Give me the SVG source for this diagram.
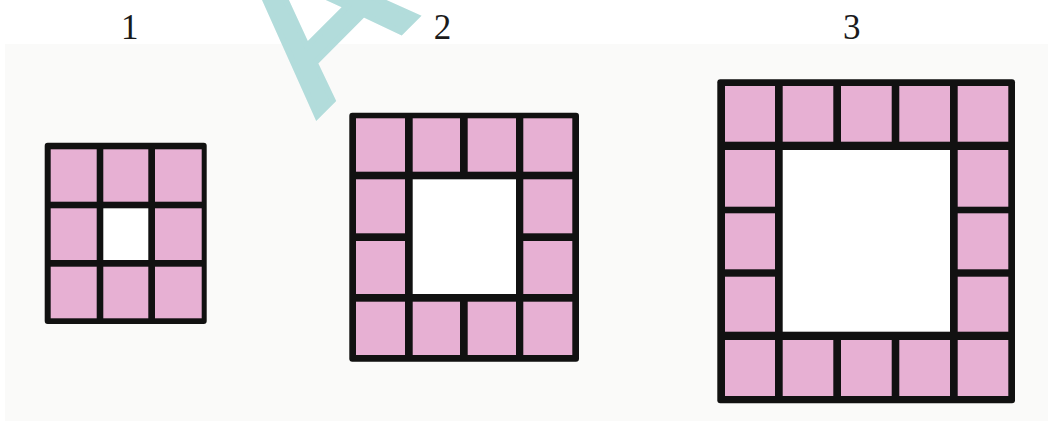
<svg xmlns="http://www.w3.org/2000/svg" width="1053" height="423" viewBox="0 0 1053 423">
  <style>
    .frame { fill: #111111; }
    .tile { fill: #e7b0d3; }
    .hole { fill: #ffffff; }
    .label { font-family: "Liberation Serif", "DejaVu Serif", serif; font-size: 35px; fill: #1a1a1a; text-anchor: middle; }
    .wm { font-family: "DejaVu Sans", "Liberation Sans", sans-serif; font-size: 210px; fill: #b2dcdb; stroke: #b2dcdb; stroke-width: 6px; }
  </style>
  <rect x="0" y="0" width="1053" height="423" fill="#ffffff"/>
  <rect x="5" y="44" width="1043" height="377" fill="#fafaf9"/>
  <text class="wm" transform="translate(316,117) rotate(-45)">A</text>

  <g id="labels">
    <text class="label" x="129.7" y="39">1</text>
    <text class="label" x="442.5" y="39">2</text>
    <text class="label" x="851.7" y="39">3</text>
  </g>

  <g id="figure1">
    <rect class="frame" x="44.7" y="142.7" width="162" height="181.3" rx="3"/>
    <rect class="tile" x="50.7" y="149.3" width="46" height="52.4"/>
    <rect class="tile" x="103.3" y="149.3" width="45" height="52.4"/>
    <rect class="tile" x="155" y="149.3" width="46.7" height="52.4"/>
    <rect class="tile" x="50.7" y="208.3" width="46" height="51.7"/>
    <rect class="hole" x="103.3" y="208.3" width="45" height="51.7"/>
    <rect class="tile" x="155" y="208.3" width="46.7" height="51.7"/>
    <rect class="tile" x="50.7" y="266.7" width="46" height="51.6"/>
    <rect class="tile" x="103.3" y="266.7" width="45" height="51.6"/>
    <rect class="tile" x="155" y="266.7" width="46.7" height="51.6"/>
  </g>

  <g id="figure2">
    <rect class="frame" x="349.3" y="112.7" width="229.7" height="249" rx="3"/>
    <rect class="tile" x="356" y="118.3" width="49" height="53.4"/>
    <rect class="tile" x="412.7" y="118.3" width="47.3" height="53.4"/>
    <rect class="tile" x="467.7" y="118.3" width="48.3" height="53.4"/>
    <rect class="tile" x="523.3" y="118.3" width="49" height="53.4"/>
    <rect class="tile" x="356" y="179.3" width="49" height="54"/>
    <rect class="tile" x="523.3" y="179.3" width="49" height="54"/>
    <rect class="tile" x="356" y="241" width="49" height="53"/>
    <rect class="tile" x="523.3" y="241" width="49" height="53"/>
    <rect class="hole" x="412.7" y="179.3" width="103.3" height="114.7"/>
    <rect class="tile" x="356" y="301.7" width="49" height="53.3"/>
    <rect class="tile" x="412.7" y="301.7" width="47.3" height="53.3"/>
    <rect class="tile" x="467.7" y="301.7" width="48.3" height="53.3"/>
    <rect class="tile" x="523.3" y="301.7" width="49" height="53.3"/>
  </g>

  <g id="figure3">
    <rect class="frame" x="717.3" y="79.3" width="297.7" height="324" rx="3"/>
    <rect class="tile" x="725" y="86" width="50" height="55.7"/>
    <rect class="tile" x="782.7" y="86" width="50.6" height="55.7"/>
    <rect class="tile" x="841" y="86" width="50.7" height="55.7"/>
    <rect class="tile" x="899.3" y="86" width="50.7" height="55.7"/>
    <rect class="tile" x="957.7" y="86" width="50.6" height="55.7"/>
    <rect class="tile" x="725" y="150" width="50" height="56.7"/>
    <rect class="tile" x="957.7" y="150" width="50.6" height="56.7"/>
    <rect class="tile" x="725" y="213.3" width="50" height="56"/>
    <rect class="tile" x="957.7" y="213.3" width="50.6" height="56"/>
    <rect class="tile" x="725" y="276.7" width="50" height="55"/>
    <rect class="tile" x="957.7" y="276.7" width="50.6" height="55"/>
    <rect class="hole" x="782.7" y="150" width="167.3" height="181.7"/>
    <rect class="tile" x="725" y="340" width="50" height="56"/>
    <rect class="tile" x="782.7" y="340" width="50.6" height="56"/>
    <rect class="tile" x="841" y="340" width="50.7" height="56"/>
    <rect class="tile" x="899.3" y="340" width="50.7" height="56"/>
    <rect class="tile" x="957.7" y="340" width="50.6" height="56"/>
  </g>
</svg>
